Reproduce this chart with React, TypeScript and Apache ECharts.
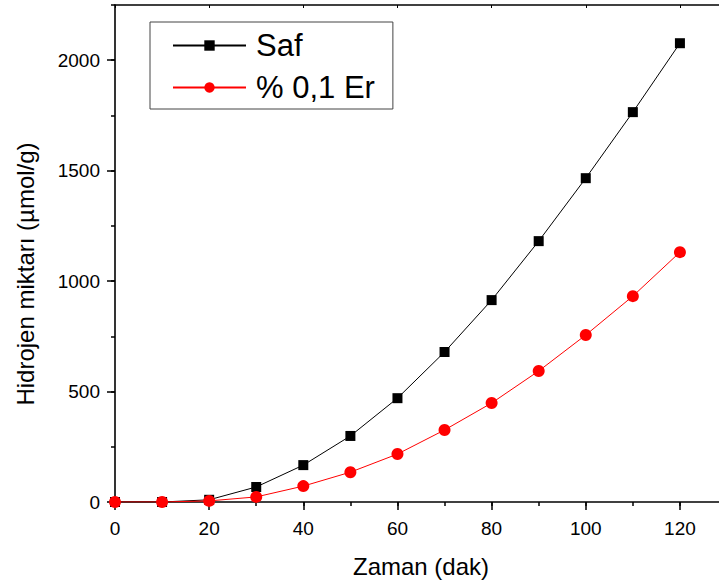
import React, { useEffect, useRef } from "react";
import * as echarts from "echarts";

const timeValues = [0, 10, 20, 30, 40, 50, 60, 70, 80, 90, 100, 110, 120];
const safValues = [0, 0, 10, 68, 167, 299, 470, 679, 914, 1181, 1466, 1765, 2077];
const erValues = [0, 0, 5, 23, 72, 135, 217, 326, 448, 593, 756, 932, 1131];
const yTickValues = [0, 500, 1000, 1500, 2000];
const xTickValues = [0, 20, 40, 60, 80, 100, 120];
const seriesNames = ["Saf", "% 0,1 Er"];
const xName = "Zaman (dak)";
const yName = "Hidrojen miktarı (µmol/g)";

const FONT = "'Liberation Sans', Arial, sans-serif";

export default function App() {
  const ref = useRef<HTMLDivElement>(null);
  useEffect(() => {
    if (!ref.current) return;
    const chart = echarts.init(ref.current, undefined, { renderer: "svg" });
    const axisLine = { show: true, lineStyle: { color: "#000", width: 1.6 } };
    const fmt = (v: number) => String(v);
    chart.setOption({
      animation: false,
      backgroundColor: "#fff",
      grid: { left: 115, top: 5, right: -8, bottom: 80, containLabel: false, outerBoundsMode: "none" },
      legend: {
        left: 150,
        top: 22,
        orient: "vertical",
        padding: [8, 18, 6, 22],
        itemGap: 11,
        itemWidth: 73,
        itemHeight: 13,
        borderColor: "#444",
        borderWidth: 1,
        textStyle: { fontSize: 31, fontFamily: FONT, color: "#000", lineHeight: 30, padding: [0, 0, 0, 5] },
        data: seriesNames,
      },
      xAxis: [
        {
          type: "value",
          position: "bottom",
          min: 0,
          max: 130,
          interval: 20,
          name: xName,
          nameLocation: "middle",
          nameGap: 52,
          nameTextStyle: { fontSize: 24, fontFamily: FONT, color: "#000" },
          axisLine,
          axisTick: { show: true, inside: false, length: 8, customValues: xTickValues, lineStyle: { color: "#000", width: 1.5 } },
          axisLabel: { show: true, margin: 17, fontSize: 19, fontFamily: FONT, color: "#000", customValues: xTickValues, formatter: fmt },
          splitLine: { show: false },
        },
        {
          type: "value",
          position: "bottom",
          min: 0,
          max: 130,
          interval: 10,
          axisLine: { show: false },
          axisTick: { show: true, inside: false, length: 4, lineStyle: { color: "#000", width: 1.5 } },
          axisLabel: { show: false },
          splitLine: { show: false },
        },
        {
          type: "value",
          position: "top",
          min: 0,
          max: 130,
          interval: 20,
          axisLine,
          axisTick: { show: true, inside: true, length: 3, lineStyle: { color: "#000", width: 1 } },
          axisLabel: { show: false },
          splitLine: { show: false },
        },
      ],
      yAxis: [
        {
          type: "value",
          position: "left",
          min: 0,
          max: 2250,
          interval: 500,
          axisLine,
          axisTick: { show: true, inside: false, length: 8, customValues: yTickValues, lineStyle: { color: "#000", width: 1.5 } },
          axisLabel: { show: true, margin: 15, fontSize: 19, fontFamily: FONT, color: "#000", customValues: yTickValues, formatter: fmt },
          splitLine: { show: false },
        },
        {
          type: "value",
          position: "left",
          min: 0,
          max: 2250,
          interval: 250,
          axisLine: { show: false },
          axisTick: { show: true, inside: false, length: 4, lineStyle: { color: "#000", width: 1.5 } },
          axisLabel: { show: false },
          splitLine: { show: false },
        },
      ],
      graphic: [
        {
          type: "text",
          x: 25,
          y: 274,
          rotation: Math.PI / 2,
          style: {
            text: yName,
            fontSize: 24,
            fontFamily: FONT,
            fill: "#000",
            align: "center",
            verticalAlign: "middle",
          },
        },
      ],
      series: [
        {
          name: seriesNames[0],
          type: "line",
          xAxisIndex: 0,
          yAxisIndex: 0,
          data: timeValues.map((t, i) => [t, safValues[i]]),
          symbol: "rect",
          symbolSize: 10,
          showAllSymbol: true,
          lineStyle: { color: "#000", width: 1 },
          itemStyle: { color: "#000" },
          z: 2,
        },
        {
          name: seriesNames[1],
          type: "line",
          xAxisIndex: 0,
          yAxisIndex: 0,
          data: timeValues.map((t, i) => [t, erValues[i]]),
          symbol: "circle",
          symbolSize: 12,
          showAllSymbol: true,
          lineStyle: { color: "#ff0000", width: 1 },
          itemStyle: { color: "#ff0000" },
          z: 3,
        },
      ],
    });
    return () => chart.dispose();
  }, []);
  return (
    <div
      ref={ref}
      style={{ position: "fixed", left: 0, top: 0, width: 719, height: 582, background: "#fff" }}
    />
  );
}
